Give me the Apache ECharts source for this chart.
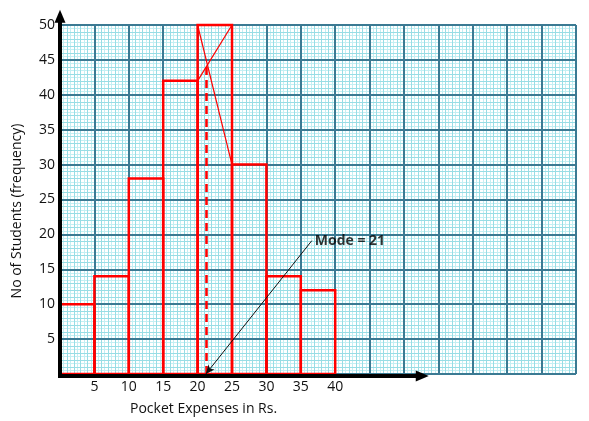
<!DOCTYPE html>
<html>
<head>
<meta charset="utf-8">
<script src="https://cdn.jsdelivr.net/npm/echarts@6/dist/echarts.min.js"></script>
<style>
html,body{margin:0;padding:0;background:#fff;}
#chart{width:589px;height:421px;}
</style>
</head>
<body>
<div id="chart"></div>
<script>
// ---- data ----
var binStarts = [0, 5, 10, 15, 20, 25, 30, 35];
var binEnds = [5, 10, 15, 20, 25, 30, 35, 40];
var frequencies = [10, 14, 28, 42, 50, 30, 14, 12];
var xTickLabels = [5, 10, 15, 20, 25, 30, 35, 40];
var yTickLabels = [5, 10, 15, 20, 25, 30, 35, 40, 45, 50];
var modeValue = 21.2;
var modeIntersectY = 44.6;     // where the diagonals cross
var modeText = 'Mode = 21';
var modeLabelAnchor = [36.6, 19.1];
var xArrowEnd = 53.6;          // x-axis arrow reaches here
var yArrowEnd = 52.2;          // y-axis arrow reaches here
var xTitle = 'Pocket Expenses in Rs.';
var yTitle = 'No of Students (frequency)';

var FONT = 'Open Sans';
var modalIdx = frequencies.indexOf(Math.max.apply(null, frequencies));

var barData = binStarts.map(function (s, i) { return [s, binEnds[i], frequencies[i]]; });

function gridAxis(max, interval, color, width, z, extra) {
  var a = {
    type: 'value', min: 0, max: max, interval: interval, z: z,
    axisLine: { show: false }, axisTick: { show: false },
    axisLabel: { show: false },
    splitLine: { show: true, lineStyle: { color: color, width: width } }
  };
  for (var k in extra) a[k] = extra[k];
  return a;
}

function arrowHead(tip, dir, len, half) {
  // dir: unit vector pointing toward the tip
  var bx = tip[0] - dir[0] * len, by = tip[1] - dir[1] * len;
  var nx = -dir[1], ny = dir[0];
  return [tip, [bx + nx * half, by + ny * half], [bx - nx * half, by - ny * half]];
}

var chart = echarts.init(document.getElementById('chart'));
var option = {
  animation: false,
  grid: { left: 60, right: 13, top: 25, bottom: 47 },
  xAxis: [
    gridAxis(75, 5, '#3b7a93', 2, 3, {
      position: 'bottom',
      axisLabel: {
        show: true, margin: 6, fontFamily: FONT, fontSize: 14, color: '#111',
        formatter: function (v) { return xTickLabels.indexOf(v) >= 0 ? String(v) : ''; }
      }
    }),
    gridAxis(75, 0.5, '#c4eff3', 1, 1, { position: 'top' }),
    gridAxis(75, 1, '#98dde5', 1, 2, { position: 'top' })
  ],
  yAxis: [
    gridAxis(50, 5, '#3b7a93', 2, 3, {
      position: 'left',
      axisLabel: {
        show: true, margin: 5, fontFamily: FONT, fontSize: 14, color: '#111',
        formatter: function (v) { return yTickLabels.indexOf(v) >= 0 ? String(v) : ''; }
      }
    }),
    gridAxis(50, 0.5, '#c4eff3', 1, 1, { position: 'right' }),
    gridAxis(50, 1, '#98dde5', 1, 2, { position: 'right' })
  ],
  series: [
    {
      type: 'custom',
      z: 10,
      clip: false,
      data: barData,
      renderItem: function (params, api) {
        var p1 = api.coord([api.value(0), api.value(2)]);
        var p2 = api.coord([api.value(1), 0]);
        return {
          type: 'rect',
          shape: { x: p1[0], y: p1[1], width: p2[0] - p1[0], height: p2[1] - p1[1] },
          style: { fill: 'none', stroke: '#ff0000', lineWidth: 2.5 }
        };
      },
      markLine: {
        silent: true, symbol: ['none', 'none'], label: { show: false },
        animation: false, z: 11,
        data: [
          [{ coord: [binStarts[modalIdx], frequencies[modalIdx]] }, { coord: [binEnds[modalIdx], frequencies[modalIdx + 1]], lineStyle: { color: '#ff0000', width: 1.2, type: 'solid' } }],
          [{ coord: [binStarts[modalIdx], frequencies[modalIdx - 1]] }, { coord: [binEnds[modalIdx], frequencies[modalIdx]], lineStyle: { color: '#ff0000', width: 1.2, type: 'solid' } }],
          [{ coord: [modeValue, 0] }, { coord: [modeValue, modeIntersectY], lineStyle: { color: '#ff0000', width: 2.5, type: [8, 5] } }]
        ]
      }
    },
    {
      // main axis lines with arrowheads
      type: 'custom',
      z: 20,
      clip: false,
      silent: true,
      data: [[0, 0]],
      renderItem: function (params, api) {
        var o = api.coord([0, 0]);
        var xe = api.coord([xArrowEnd, 0]);
        var ye = api.coord([0, yArrowEnd]);
        var xo = [o[0], o[1] + 2], xEnd = [xe[0], xe[1] + 2];
        return {
          type: 'group',
          children: [
            { type: 'line', shape: { x1: xo[0] - 2, y1: xo[1], x2: xEnd[0] - 8, y2: xEnd[1] }, style: { stroke: '#000', lineWidth: 4 } },
            { type: 'polygon', shape: { points: arrowHead(xEnd, [1, 0], 13, 5.5) }, style: { fill: '#000' } },
            { type: 'line', shape: { x1: o[0], y1: o[1] + 4, x2: ye[0], y2: ye[1] + 8 }, style: { stroke: '#000', lineWidth: 4 } },
            { type: 'polygon', shape: { points: arrowHead(ye, [0, -1], 13, 5.5) }, style: { fill: '#000' } }
          ]
        };
      }
    },
    {
      type: 'line',
      data: [],
      z: 12,
      clip: false,
      markLine: {
        silent: true, label: { show: false }, animation: false, z: 12,
        symbol: ['none', 'arrow'],
        data: [
          [{ coord: modeLabelAnchor }, { coord: [modeValue, 0], symbolSize: [6, 9], lineStyle: { color: '#111', width: 1, type: 'solid' } }]
        ]
      }
    },
    {
      type: 'scatter',
      z: 12,
      symbolSize: 0,
      data: [modeLabelAnchor],
      label: {
        show: true, position: 'right', distance: 3,
        formatter: modeText,
        fontFamily: FONT, fontSize: 14, fontWeight: 'bold', color: '#000'
      }
    }
  ],
  graphic: [
    {
      type: 'text', left: 130, top: 402, z: 20,
      style: { text: xTitle, font: '14px "' + FONT + '"', fill: '#111' }
    },
    {
      type: 'text', z: 20, x: 17, y: 211, rotation: Math.PI / 2,
      style: { text: yTitle, font: '14px "' + FONT + '"', fill: '#111', align: 'center', verticalAlign: 'middle' }
    }
  ]
};
chart.setOption(option);
</script>
</body>
</html>
